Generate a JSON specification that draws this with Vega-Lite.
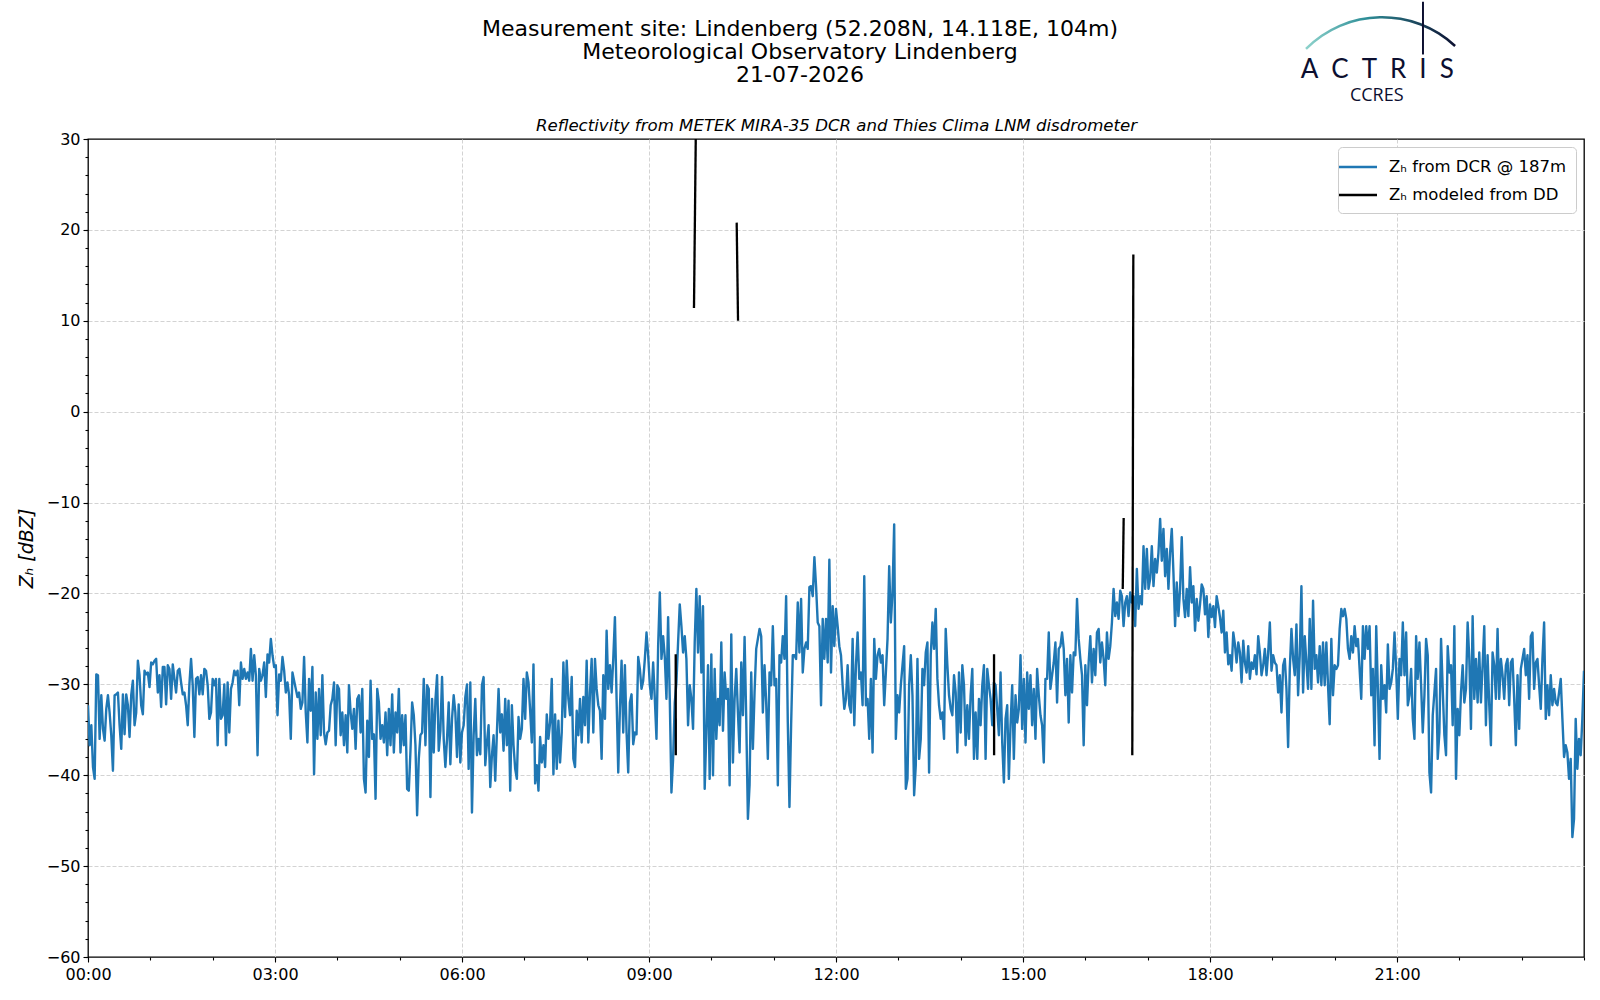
{
  "$schema": "https://vega.github.io/schema/vega-lite/v6.json",
  "width": 1496,
  "height": 818,
  "autosize": {"type": "none"},
  "padding": {"left": 88, "top": 139, "right": 16, "bottom": 43},
  "background": "white",
  "title": {
    "text": ["Measurement site: Lindenberg (52.208N, 14.118E, 104m)", "Meteorological Observatory Lindenberg", "21-07-2026"],
    "font": "DejaVu Sans",
    "fontSize": 22,
    "fontWeight": "normal",
    "lineHeight": 23,
    "color": "black",
    "anchor": "middle",
    "dx": -36,
    "offset": -86
  },
  "datasets": {
    "dcr": [
      {"m":0,"z":-32.3},{"m":1.6,"z":-36.7},{"m":3.2,"z":-34.5},{"m":4.8,"z":-39.1},{"m":6.4,"z":-40.4},
      {"m":8,"z":-28.9},{"m":9.6,"z":-29},{"m":11.2,"z":-36},{"m":12.8,"z":-31.2},{"m":14.4,"z":-34.9},
      {"m":16,"z":-36.2},{"m":17.6,"z":-32.7},{"m":19.2,"z":-31.2},{"m":20.8,"z":-33.1},{"m":22.4,"z":-35.6},
      {"m":24,"z":-39.5},{"m":25.6,"z":-31.2},{"m":27.2,"z":-31.1},{"m":28.8,"z":-30.9},{"m":30.4,"z":-34.5},
      {"m":32,"z":-37.1},{"m":33.6,"z":-31.1},{"m":35.2,"z":-35.5},{"m":36.8,"z":-31.1},{"m":38.4,"z":-32.3},
      {"m":40,"z":-35.8},{"m":41.6,"z":-31.2},{"m":43.2,"z":-29.6},{"m":44.8,"z":-34.5},{"m":46.4,"z":-33.1},
      {"m":48,"z":-27.4},{"m":49.6,"z":-29},{"m":51.2,"z":-32.3},{"m":52.8,"z":-33.3},{"m":54.4,"z":-28.5},
      {"m":56,"z":-28.9},{"m":57.6,"z":-28.7},{"m":59.2,"z":-30.3},{"m":60.8,"z":-27.6},{"m":62.4,"z":-27.8},
      {"m":64,"z":-27.4},{"m":65.6,"z":-27.2},{"m":67.2,"z":-30.9},{"m":68.8,"z":-29},{"m":70.4,"z":-32.5},
      {"m":72,"z":-28.1},{"m":73.6,"z":-28.1},{"m":75.2,"z":-32.2},{"m":76.8,"z":-27.9},{"m":78.4,"z":-28.3},
      {"m":80,"z":-31.6},{"m":81.6,"z":-27.8},{"m":83.2,"z":-29.4},{"m":84.8,"z":-30.9},{"m":86.4,"z":-28.5},
      {"m":88,"z":-28.3},{"m":89.6,"z":-29.8},{"m":91.2,"z":-31.1},{"m":92.8,"z":-30.9},{"m":94.4,"z":-32.3},
      {"m":96,"z":-34.5},{"m":97.6,"z":-30},{"m":99.2,"z":-27.2},{"m":100.8,"z":-30.1},{"m":102.4,"z":-35.8},
      {"m":104,"z":-29.4},{"m":105.6,"z":-29.2},{"m":107.2,"z":-31.1},{"m":108.8,"z":-29},{"m":110.4,"z":-31.1},
      {"m":112,"z":-28.3},{"m":113.6,"z":-28.5},{"m":115.2,"z":-30.1},{"m":116.8,"z":-33.8},{"m":118.4,"z":-33.1},
      {"m":120,"z":-29.4},{"m":121.6,"z":-30.1},{"m":123.2,"z":-29.4},{"m":124.8,"z":-36.7},{"m":126.4,"z":-29.4},
      {"m":128,"z":-33.8},{"m":129.6,"z":-33.4},{"m":131.2,"z":-30},{"m":132.8,"z":-36.7},{"m":134.4,"z":-29.8},
      {"m":136,"z":-35.3},{"m":137.6,"z":-30.5},{"m":139.2,"z":-29.8},{"m":140.8,"z":-28.5},{"m":142.4,"z":-29},
      {"m":144,"z":-28.5},{"m":145.6,"z":-32.3},{"m":147.2,"z":-27.6},{"m":148.8,"z":-29.4},{"m":150.4,"z":-28.3},
      {"m":152,"z":-29.4},{"m":153.6,"z":-28.7},{"m":155.2,"z":-29.6},{"m":156.8,"z":-26.1},{"m":158.4,"z":-29.6},
      {"m":160,"z":-26.8},{"m":161.6,"z":-29},{"m":163.2,"z":-37.8},{"m":164.8,"z":-28.3},{"m":166.4,"z":-29.6},
      {"m":168,"z":-29},{"m":169.6,"z":-27.6},{"m":171.2,"z":-31.4},{"m":172.8,"z":-26.7},{"m":174.4,"z":-27.6},
      {"m":176,"z":-25},{"m":177.6,"z":-26.8},{"m":179.2,"z":-28.1},{"m":180.8,"z":-27.9},{"m":182.4,"z":-33.4},
      {"m":184,"z":-28.9},{"m":185.6,"z":-29.6},{"m":187.2,"z":-27},{"m":188.8,"z":-28.5},{"m":190.4,"z":-30.9},
      {"m":192,"z":-29.8},{"m":193.6,"z":-31.2},{"m":195.2,"z":-36},{"m":196.8,"z":-28.7},{"m":198.4,"z":-29.6},
      {"m":200,"z":-30.5},{"m":201.6,"z":-31.4},{"m":203.2,"z":-30.9},{"m":204.8,"z":-32.7},{"m":206.4,"z":-32},
      {"m":208,"z":-27},{"m":209.6,"z":-33.1},{"m":211.2,"z":-36.4},{"m":212.8,"z":-29.4},{"m":214.4,"z":-32.9},
      {"m":216,"z":-28.1},{"m":217.6,"z":-39.9},{"m":219.2,"z":-30.9},{"m":220.8,"z":-36},{"m":222.4,"z":-30.5},
      {"m":224,"z":-35.6},{"m":225.6,"z":-29},{"m":227.2,"z":-35.3},{"m":228.8,"z":-36.6},{"m":230.4,"z":-35.3},
      {"m":232,"z":-35.1},{"m":233.6,"z":-32.3},{"m":235.2,"z":-31.6},{"m":236.8,"z":-29.8},{"m":238.4,"z":-36.7},
      {"m":240,"z":-30.1},{"m":241.6,"z":-30.5},{"m":243.2,"z":-35.6},{"m":244.8,"z":-33.1},{"m":246.4,"z":-36.7},
      {"m":248,"z":-33.4},{"m":249.6,"z":-37.5},{"m":251.2,"z":-30.1},{"m":252.8,"z":-33.1},{"m":254.4,"z":-34.9},
      {"m":256,"z":-32.7},{"m":257.6,"z":-37.1},{"m":259.2,"z":-31.6},{"m":260.8,"z":-31.2},{"m":262.4,"z":-35.3},
      {"m":264,"z":-30.5},{"m":265.6,"z":-40.4},{"m":267.2,"z":-41.9},{"m":268.8,"z":-34},{"m":270.4,"z":-38},
      {"m":272,"z":-29.6},{"m":273.6,"z":-36},{"m":275.2,"z":-35.5},{"m":276.8,"z":-42.6},{"m":278.4,"z":-30.5},
      {"m":280,"z":-32},{"m":281.6,"z":-36},{"m":283.2,"z":-34.5},{"m":284.8,"z":-36.4},{"m":286.4,"z":-33.1},
      {"m":288,"z":-37.8},{"m":289.6,"z":-32.7},{"m":291.2,"z":-36.7},{"m":292.8,"z":-31.1},{"m":294.4,"z":-37.5},
      {"m":296,"z":-33.1},{"m":297.6,"z":-35.3},{"m":299.2,"z":-30.5},{"m":300.8,"z":-37.5},{"m":302.4,"z":-33.4},
      {"m":304,"z":-36.7},{"m":305.6,"z":-33.4},{"m":307.2,"z":-41.5},{"m":308.8,"z":-41.7},{"m":310.4,"z":-37.3},
      {"m":312,"z":-32},{"m":313.6,"z":-33.4},{"m":315.2,"z":-36.7},{"m":316.8,"z":-44.4},{"m":318.4,"z":-38.2},
      {"m":320,"z":-35.6},{"m":321.6,"z":-35.3},{"m":323.2,"z":-29.4},{"m":324.8,"z":-36.7},{"m":326.4,"z":-30.1},
      {"m":328,"z":-30.5},{"m":329.6,"z":-42.4},{"m":331.2,"z":-31.6},{"m":332.8,"z":-37.5},{"m":334.4,"z":-31.8},
      {"m":336,"z":-29},{"m":337.6,"z":-37.3},{"m":339.2,"z":-35.1},{"m":340.8,"z":-29.2},{"m":342.4,"z":-36},
      {"m":344,"z":-39.1},{"m":345.6,"z":-36},{"m":347.2,"z":-32},{"m":348.8,"z":-38.8},{"m":350.4,"z":-33.8},
      {"m":352,"z":-31.2},{"m":353.6,"z":-33.1},{"m":355.2,"z":-38},{"m":356.8,"z":-32.2},{"m":358.4,"z":-38.6},
      {"m":360,"z":-35.3},{"m":361.6,"z":-34.5},{"m":363.2,"z":-31.4},{"m":364.8,"z":-30},{"m":366.4,"z":-39.3},
      {"m":368,"z":-29.8},{"m":369.6,"z":-44.1},{"m":371.2,"z":-35.6},{"m":372.8,"z":-31.6},{"m":374.4,"z":-37.8},
      {"m":376,"z":-36},{"m":377.6,"z":-37.7},{"m":379.2,"z":-30.1},{"m":380.8,"z":-29.2},{"m":382.4,"z":-38.9},
      {"m":384,"z":-36.4},{"m":385.6,"z":-34.5},{"m":387.2,"z":-41.3},{"m":388.8,"z":-37.8},{"m":390.4,"z":-35.6},
      {"m":392,"z":-40.6},{"m":393.6,"z":-35.3},{"m":395.2,"z":-30.5},{"m":396.8,"z":-35.3},{"m":398.4,"z":-33.3},
      {"m":400,"z":-37.3},{"m":401.6,"z":-31.6},{"m":403.2,"z":-36.7},{"m":404.8,"z":-31.8},{"m":406.4,"z":-41.7},
      {"m":408,"z":-32.3},{"m":409.6,"z":-36.7},{"m":411.2,"z":-39.3},{"m":412.8,"z":-40.4},{"m":414.4,"z":-33.6},
      {"m":416,"z":-36},{"m":417.6,"z":-34.9},{"m":419.2,"z":-29.4},{"m":420.8,"z":-33.8},{"m":422.4,"z":-28.7},
      {"m":424,"z":-29.8},{"m":425.6,"z":-32.9},{"m":427.2,"z":-36.4},{"m":428.8,"z":-27.8},{"m":430.4,"z":-40.9},
      {"m":432,"z":-38.9},{"m":433.6,"z":-41.7},{"m":435.2,"z":-35.8},{"m":436.8,"z":-38.6},{"m":438.4,"z":-36.7},
      {"m":440,"z":-39.1},{"m":441.6,"z":-33.3},{"m":443.2,"z":-36},{"m":444.8,"z":-34.2},{"m":446.4,"z":-29.4},
      {"m":448,"z":-39.9},{"m":449.6,"z":-33.3},{"m":451.2,"z":-39.3},{"m":452.8,"z":-34},{"m":454.4,"z":-38.6},
      {"m":456,"z":-35.3},{"m":457.6,"z":-27.6},{"m":459.2,"z":-33.6},{"m":460.8,"z":-27.4},{"m":462.4,"z":-31.6},
      {"m":464,"z":-33.4},{"m":465.6,"z":-29.2},{"m":467.2,"z":-38.2},{"m":468.8,"z":-39.1},{"m":470.4,"z":-32.9},
      {"m":472,"z":-35.6},{"m":473.6,"z":-31.6},{"m":475.2,"z":-36.4},{"m":476.8,"z":-31.4},{"m":478.4,"z":-34.5},
      {"m":480,"z":-27.4},{"m":481.6,"z":-36.4},{"m":483.2,"z":-30.9},{"m":484.8,"z":-27.2},{"m":486.4,"z":-35.3},
      {"m":488,"z":-27.2},{"m":489.6,"z":-30.5},{"m":491.2,"z":-32.3},{"m":492.8,"z":-32.9},{"m":494.4,"z":-38.2},
      {"m":496,"z":-29},{"m":497.6,"z":-33.8},{"m":499.2,"z":-24.1},{"m":500.8,"z":-30.5},{"m":502.4,"z":-27.9},
      {"m":504,"z":-30.9},{"m":505.6,"z":-27.2},{"m":507.2,"z":-22.6},{"m":508.8,"z":-31.6},{"m":510.4,"z":-39.7},
      {"m":512,"z":-32.7},{"m":513.6,"z":-27.4},{"m":515.2,"z":-35.3},{"m":516.8,"z":-27.9},{"m":518.4,"z":-35.3},
      {"m":520,"z":-39.7},{"m":521.6,"z":-32},{"m":523.2,"z":-31.1},{"m":524.8,"z":-36.6},{"m":526.4,"z":-35.3},
      {"m":528,"z":-35.5},{"m":529.6,"z":-27},{"m":531.2,"z":-28.3},{"m":532.8,"z":-30.5},{"m":534.4,"z":-29.6},
      {"m":536,"z":-27.2},{"m":537.6,"z":-24.3},{"m":539.2,"z":-26.8},{"m":540.8,"z":-30.1},{"m":542.4,"z":-31.6},
      {"m":544,"z":-27.6},{"m":545.6,"z":-31.6},{"m":547.2,"z":-36},{"m":548.8,"z":-25.8},{"m":550.4,"z":-19.9},
      {"m":552,"z":-27.2},{"m":553.6,"z":-24.7},{"m":555.2,"z":-27},{"m":556.8,"z":-31.6},{"m":558.4,"z":-22.6},
      {"m":560,"z":-31.6},{"m":561.6,"z":-41.9},{"m":563.2,"z":-38.2},{"m":564.8,"z":-32},{"m":566.4,"z":-29.8},
      {"m":568,"z":-25.4},{"m":569.6,"z":-21.2},{"m":571.2,"z":-23.6},{"m":572.8,"z":-26.5},{"m":574.4,"z":-24.7},
      {"m":576,"z":-27.2},{"m":577.6,"z":-34.5},{"m":579.2,"z":-30.1},{"m":580.8,"z":-31.6},{"m":582.4,"z":-34.9},
      {"m":584,"z":-25.4},{"m":585.6,"z":-19.5},{"m":587.2,"z":-26.5},{"m":588.8,"z":-20.3},{"m":590.4,"z":-28.7},
      {"m":592,"z":-21.4},{"m":593.6,"z":-41.5},{"m":595.2,"z":-35.3},{"m":596.8,"z":-27.9},{"m":598.4,"z":-40.4},
      {"m":600,"z":-26.7},{"m":601.6,"z":-40},{"m":603.2,"z":-28.3},{"m":604.8,"z":-36},{"m":606.4,"z":-31.6},
      {"m":608,"z":-34.5},{"m":609.6,"z":-25.4},{"m":611.2,"z":-35.1},{"m":612.8,"z":-28.7},{"m":614.4,"z":-31.6},
      {"m":616,"z":-30.5},{"m":617.6,"z":-41.1},{"m":619.2,"z":-24.5},{"m":620.8,"z":-38.6},{"m":622.4,"z":-31.6},
      {"m":624,"z":-28.3},{"m":625.6,"z":-33.1},{"m":627.2,"z":-37.5},{"m":628.8,"z":-27.6},{"m":630.4,"z":-33.4},
      {"m":632,"z":-24.8},{"m":633.6,"z":-33.8},{"m":635.2,"z":-44.8},{"m":636.8,"z":-41.1},{"m":638.4,"z":-28.7},
      {"m":640,"z":-37.1},{"m":641.6,"z":-30.9},{"m":643.2,"z":-26.1},{"m":644.8,"z":-25},{"m":646.4,"z":-23.9},
      {"m":648,"z":-24.7},{"m":649.6,"z":-33.1},{"m":651.2,"z":-27.9},{"m":652.8,"z":-32},{"m":654.4,"z":-38.2},
      {"m":656,"z":-28.7},{"m":657.6,"z":-30.1},{"m":659.2,"z":-23.6},{"m":660.8,"z":-30.1},{"m":662.4,"z":-29.4},
      {"m":664,"z":-41.1},{"m":665.6,"z":-26.8},{"m":667.2,"z":-27.6},{"m":668.8,"z":-24.7},{"m":670.4,"z":-27.2},
      {"m":672,"z":-20.3},{"m":673.6,"z":-34.2},{"m":675.2,"z":-43.5},{"m":676.8,"z":-34.5},{"m":678.4,"z":-26.8},
      {"m":680,"z":-26.8},{"m":681.6,"z":-27.2},{"m":683.2,"z":-21},{"m":684.8,"z":-26.5},{"m":686.4,"z":-20.6},
      {"m":688,"z":-28.7},{"m":689.6,"z":-26.1},{"m":691.2,"z":-25.4},{"m":692.8,"z":-26.1},{"m":694.4,"z":-19.3},
      {"m":696,"z":-19.2},{"m":697.6,"z":-20.3},{"m":699.2,"z":-16},{"m":700.8,"z":-19.2},{"m":702.4,"z":-23.2},
      {"m":704,"z":-23.6},{"m":705.6,"z":-32.3},{"m":707.2,"z":-22.8},{"m":708.8,"z":-27.2},{"m":710.4,"z":-22.8},
      {"m":712,"z":-27.6},{"m":713.6,"z":-16.3},{"m":715.2,"z":-28.7},{"m":716.8,"z":-21.4},{"m":718.4,"z":-25.8},
      {"m":720,"z":-21.7},{"m":721.6,"z":-23.6},{"m":723.2,"z":-25.8},{"m":724.8,"z":-26.8},{"m":726.4,"z":-30.1},
      {"m":728,"z":-32.7},{"m":729.6,"z":-31.6},{"m":731.2,"z":-27.9},{"m":732.8,"z":-32.3},{"m":734.4,"z":-33.1},
      {"m":736,"z":-25},{"m":737.6,"z":-34.5},{"m":739.2,"z":-27.9},{"m":740.8,"z":-24.3},{"m":742.4,"z":-29.4},
      {"m":744,"z":-28.7},{"m":745.6,"z":-32.3},{"m":747.2,"z":-18.1},{"m":748.8,"z":-32.3},{"m":750.4,"z":-31.6},
      {"m":752,"z":-36},{"m":753.6,"z":-29.4},{"m":755.2,"z":-37.5},{"m":756.8,"z":-25},{"m":758.4,"z":-29.4},
      {"m":760,"z":-26.8},{"m":761.6,"z":-26.1},{"m":763.2,"z":-27.6},{"m":764.8,"z":-26.8},{"m":766.4,"z":-32.3},
      {"m":768,"z":-28.7},{"m":769.6,"z":-25},{"m":771.2,"z":-17},{"m":772.8,"z":-23.2},{"m":774.4,"z":-19.9},
      {"m":776,"z":-12.4},{"m":777.6,"z":-36},{"m":779.2,"z":-31.2},{"m":780.8,"z":-33.1},{"m":782.4,"z":-30.1},
      {"m":784,"z":-27.9},{"m":785.6,"z":-25.8},{"m":787.2,"z":-41.5},{"m":788.8,"z":-40.4},{"m":790.4,"z":-30.1},
      {"m":792,"z":-26.8},{"m":793.6,"z":-31.2},{"m":795.2,"z":-42.2},{"m":796.8,"z":-38.9},{"m":798.4,"z":-27.2},
      {"m":800,"z":-38.2},{"m":801.6,"z":-36},{"m":803.2,"z":-28.3},{"m":804.8,"z":-30.1},{"m":806.4,"z":-26.5},
      {"m":808,"z":-25.4},{"m":809.6,"z":-39.7},{"m":811.2,"z":-26.8},{"m":812.8,"z":-23.2},{"m":814.4,"z":-26.1},
      {"m":816,"z":-21.7},{"m":817.6,"z":-29.4},{"m":819.2,"z":-32.3},{"m":820.8,"z":-33.8},{"m":822.4,"z":-33.1},
      {"m":824,"z":-36},{"m":825.6,"z":-23.9},{"m":827.2,"z":-27.9},{"m":828.8,"z":-31.2},{"m":830.4,"z":-32.7},
      {"m":832,"z":-33.4},{"m":833.6,"z":-29},{"m":835.2,"z":-30.9},{"m":836.8,"z":-37.5},{"m":838.4,"z":-28.7},
      {"m":840,"z":-35.3},{"m":841.6,"z":-27.9},{"m":843.2,"z":-30.1},{"m":844.8,"z":-36.7},{"m":846.4,"z":-32.3},
      {"m":848,"z":-36},{"m":849.6,"z":-31.2},{"m":851.2,"z":-28.3},{"m":852.8,"z":-38.2},{"m":854.4,"z":-33.1},
      {"m":856,"z":-38.2},{"m":857.6,"z":-31.6},{"m":859.2,"z":-34.5},{"m":860.8,"z":-30.1},{"m":862.4,"z":-27.9},
      {"m":864,"z":-38.2},{"m":865.6,"z":-28.3},{"m":867.2,"z":-30.1},{"m":868.8,"z":-31.6},{"m":870.4,"z":-34.5},
      {"m":872,"z":-29.8},{"m":873.6,"z":-30.1},{"m":875.2,"z":-32.7},{"m":876.8,"z":-35.6},{"m":878.4,"z":-28.7},
      {"m":880,"z":-36.4},{"m":881.6,"z":-40.8},{"m":883.2,"z":-33.8},{"m":884.8,"z":-32.3},{"m":886.4,"z":-40.4},
      {"m":888,"z":-34.5},{"m":889.6,"z":-30.1},{"m":891.2,"z":-38.2},{"m":892.8,"z":-31.2},{"m":894.4,"z":-34.2},
      {"m":896,"z":-32.7},{"m":897.6,"z":-26.8},{"m":899.2,"z":-34.9},{"m":900.8,"z":-29.4},{"m":902.4,"z":-36.4},
      {"m":904,"z":-28.7},{"m":905.6,"z":-32.7},{"m":907.2,"z":-29},{"m":908.8,"z":-34.5},{"m":910.4,"z":-30.5},
      {"m":912,"z":-36},{"m":913.6,"z":-28.3},{"m":915.2,"z":-31.2},{"m":916.8,"z":-33.4},{"m":918.4,"z":-34.5},
      {"m":920,"z":-38.6},{"m":921.6,"z":-29.4},{"m":923.2,"z":-29.4},{"m":924.8,"z":-24.3},{"m":926.4,"z":-30.5},
      {"m":928,"z":-29},{"m":929.6,"z":-27.6},{"m":931.2,"z":-25.4},{"m":932.8,"z":-32},{"m":934.4,"z":-26.1},
      {"m":936,"z":-25.8},{"m":937.6,"z":-24.3},{"m":939.2,"z":-26.1},{"m":940.8,"z":-31.2},{"m":942.4,"z":-27.2},
      {"m":944,"z":-34.2},{"m":945.6,"z":-26.8},{"m":947.2,"z":-30.9},{"m":948.8,"z":-26.5},{"m":950.4,"z":-26.8},
      {"m":952,"z":-20.6},{"m":953.6,"z":-25},{"m":955.2,"z":-27.2},{"m":956.8,"z":-29},{"m":958.4,"z":-36.7},
      {"m":960,"z":-27.9},{"m":961.6,"z":-32.3},{"m":963.2,"z":-27.6},{"m":964.8,"z":-24.7},{"m":966.4,"z":-29.8},
      {"m":968,"z":-26.1},{"m":969.6,"z":-29},{"m":971.2,"z":-24.3},{"m":972.8,"z":-23.9},{"m":974.4,"z":-27.6},
      {"m":976,"z":-25.4},{"m":977.6,"z":-27.2},{"m":979.2,"z":-30.1},{"m":980.8,"z":-24.3},{"m":982.4,"z":-27.2},
      {"m":984,"z":-25.8},{"m":985.6,"z":-23.2},{"m":987.2,"z":-19.5},{"m":988.8,"z":-22.5},{"m":990.4,"z":-21},
      {"m":992,"z":-22.8},{"m":993.6,"z":-19.7},{"m":995.2,"z":-20.3},{"m":996.8,"z":-23.6},{"m":998.4,"z":-21},
      {"m":1000,"z":-20.3},{"m":1001.6,"z":-22.5},{"m":1003.2,"z":-19.9},{"m":1004.8,"z":-21},{"m":1006.4,"z":-20.3},
      {"m":1008,"z":-23.6},{"m":1009.6,"z":-17.3},{"m":1011.2,"z":-21.7},{"m":1012.8,"z":-20.3},{"m":1014.4,"z":-21.2},
      {"m":1016,"z":-14.8},{"m":1017.6,"z":-19.5},{"m":1019.2,"z":-15.1},{"m":1020.8,"z":-19.5},{"m":1022.4,"z":-18.4},
      {"m":1024,"z":-14.8},{"m":1025.6,"z":-19.2},{"m":1027.2,"z":-16.2},{"m":1028.8,"z":-17.7},{"m":1030.4,"z":-15.5},
      {"m":1032,"z":-11.8},{"m":1033.6,"z":-16.4},{"m":1035.2,"z":-12.9},{"m":1036.8,"z":-18.1},{"m":1038.4,"z":-15.1},
      {"m":1040,"z":-19.5},{"m":1041.6,"z":-15.5},{"m":1043.2,"z":-12.9},{"m":1044.8,"z":-17.7},{"m":1046.4,"z":-23.6},
      {"m":1048,"z":-18.8},{"m":1049.6,"z":-22.5},{"m":1051.2,"z":-19.5},{"m":1052.8,"z":-13.8},{"m":1054.4,"z":-20.6},
      {"m":1056,"z":-22.6},{"m":1057.6,"z":-19.5},{"m":1059.2,"z":-22.5},{"m":1060.8,"z":-17.1},{"m":1062.4,"z":-21},
      {"m":1064,"z":-19.2},{"m":1065.6,"z":-24.1},{"m":1067.2,"z":-20.6},{"m":1068.8,"z":-23},{"m":1070.4,"z":-21.2},
      {"m":1072,"z":-19},{"m":1073.6,"z":-19.5},{"m":1075.2,"z":-22.3},{"m":1076.8,"z":-20.3},{"m":1078.4,"z":-24.8},
      {"m":1080,"z":-21.2},{"m":1081.6,"z":-22.6},{"m":1083.2,"z":-21.4},{"m":1084.8,"z":-23.7},{"m":1086.4,"z":-20.3},
      {"m":1088,"z":-21.4},{"m":1089.6,"z":-22.6},{"m":1091.2,"z":-24.3},{"m":1092.8,"z":-21.9},{"m":1094.4,"z":-26.5},
      {"m":1096,"z":-24.3},{"m":1097.6,"z":-27.8},{"m":1099.2,"z":-26.8},{"m":1100.8,"z":-28.5},{"m":1102.4,"z":-24.3},
      {"m":1104,"z":-25.6},{"m":1105.6,"z":-27.6},{"m":1107.2,"z":-25.4},{"m":1108.8,"z":-26.5},{"m":1110.4,"z":-29.8},
      {"m":1112,"z":-25.2},{"m":1113.6,"z":-27.6},{"m":1115.2,"z":-28.7},{"m":1116.8,"z":-25.8},{"m":1118.4,"z":-29.4},
      {"m":1120,"z":-27.6},{"m":1121.6,"z":-28.3},{"m":1123.2,"z":-26.8},{"m":1124.8,"z":-28.9},{"m":1126.4,"z":-24.7},
      {"m":1128,"z":-26.5},{"m":1129.6,"z":-29},{"m":1131.2,"z":-27.9},{"m":1132.8,"z":-26.1},{"m":1134.4,"z":-29},
      {"m":1136,"z":-26.5},{"m":1137.6,"z":-23.2},{"m":1139.2,"z":-28.5},{"m":1140.8,"z":-26.8},{"m":1142.4,"z":-27.6},
      {"m":1144,"z":-27.9},{"m":1145.6,"z":-30.9},{"m":1147.2,"z":-29},{"m":1148.8,"z":-33.1},{"m":1150.4,"z":-27.9},
      {"m":1152,"z":-27.2},{"m":1153.6,"z":-30.5},{"m":1155.2,"z":-36.9},{"m":1156.8,"z":-28.3},{"m":1158.4,"z":-23.9},
      {"m":1160,"z":-27.2},{"m":1161.6,"z":-29},{"m":1163.2,"z":-23.4},{"m":1164.8,"z":-31.2},{"m":1166.4,"z":-26.8},
      {"m":1168,"z":-19.2},{"m":1169.6,"z":-30.9},{"m":1171.2,"z":-24.7},{"m":1172.8,"z":-27.6},{"m":1174.4,"z":-30.5},
      {"m":1176,"z":-22.8},{"m":1177.6,"z":-30.5},{"m":1179.2,"z":-20.8},{"m":1180.8,"z":-28.3},{"m":1182.4,"z":-26.8},
      {"m":1184,"z":-29.8},{"m":1185.6,"z":-25.8},{"m":1187.2,"z":-30.1},{"m":1188.8,"z":-25.4},{"m":1190.4,"z":-30.1},
      {"m":1192,"z":-25.4},{"m":1193.6,"z":-30.1},{"m":1195.2,"z":-34.4},{"m":1196.8,"z":-25},{"m":1198.4,"z":-31.2},
      {"m":1200,"z":-27.9},{"m":1201.6,"z":-28.3},{"m":1203.2,"z":-27.9},{"m":1204.8,"z":-23.9},{"m":1206.4,"z":-21.7},
      {"m":1208,"z":-22.5},{"m":1209.6,"z":-21.7},{"m":1211.2,"z":-22.8},{"m":1212.8,"z":-26.1},{"m":1214.4,"z":-27.2},
      {"m":1216,"z":-24.7},{"m":1217.6,"z":-26.5},{"m":1219.2,"z":-23.6},{"m":1220.8,"z":-25.8},{"m":1222.4,"z":-25},
      {"m":1224,"z":-28.3},{"m":1225.6,"z":-31.6},{"m":1227.2,"z":-23.6},{"m":1228.8,"z":-27.2},{"m":1230.4,"z":-23.6},
      {"m":1232,"z":-26.1},{"m":1233.6,"z":-23.6},{"m":1235.2,"z":-31.2},{"m":1236.8,"z":-28.3},{"m":1238.4,"z":-36.7},
      {"m":1240,"z":-23.6},{"m":1241.6,"z":-30.5},{"m":1243.2,"z":-38.2},{"m":1244.8,"z":-27.9},{"m":1246.4,"z":-31.6},
      {"m":1248,"z":-30.1},{"m":1249.6,"z":-33.1},{"m":1251.2,"z":-25.6},{"m":1252.8,"z":-30.5},{"m":1254.4,"z":-29.8},
      {"m":1256,"z":-28.3},{"m":1257.6,"z":-24.3},{"m":1259.2,"z":-28.3},{"m":1260.8,"z":-33.8},{"m":1262.4,"z":-27.2},
      {"m":1264,"z":-29},{"m":1265.6,"z":-23.2},{"m":1267.2,"z":-29},{"m":1268.8,"z":-24.3},{"m":1270.4,"z":-32.3},
      {"m":1272,"z":-31.2},{"m":1273.6,"z":-28.3},{"m":1275.2,"z":-33.8},{"m":1276.8,"z":-36},{"m":1278.4,"z":-24.7},
      {"m":1280,"z":-29.4},{"m":1281.6,"z":-25.4},{"m":1283.2,"z":-30.1},{"m":1284.8,"z":-35.3},{"m":1286.4,"z":-31.2},
      {"m":1288,"z":-25},{"m":1289.6,"z":-26.8},{"m":1291.2,"z":-39.7},{"m":1292.8,"z":-41.9},{"m":1294.4,"z":-33.4},
      {"m":1296,"z":-30.9},{"m":1297.6,"z":-28.3},{"m":1299.2,"z":-38.2},{"m":1300.8,"z":-35.3},{"m":1302.4,"z":-25},
      {"m":1304,"z":-30.5},{"m":1305.6,"z":-35.6},{"m":1307.2,"z":-37.8},{"m":1308.8,"z":-25.8},{"m":1310.4,"z":-28.7},
      {"m":1312,"z":-27.9},{"m":1313.6,"z":-34.5},{"m":1315.2,"z":-23.6},{"m":1316.8,"z":-40.4},{"m":1318.4,"z":-32.7},
      {"m":1320,"z":-35.6},{"m":1321.6,"z":-30.9},{"m":1323.2,"z":-27.9},{"m":1324.8,"z":-32},{"m":1326.4,"z":-30.5},
      {"m":1328,"z":-23.2},{"m":1329.6,"z":-27.2},{"m":1331.2,"z":-34.9},{"m":1332.8,"z":-22.5},{"m":1334.4,"z":-31.6},
      {"m":1336,"z":-27.2},{"m":1337.6,"z":-32},{"m":1339.2,"z":-26.5},{"m":1340.8,"z":-32},{"m":1342.4,"z":-27.9},
      {"m":1344,"z":-23.6},{"m":1345.6,"z":-34.5},{"m":1347.2,"z":-26.8},{"m":1348.8,"z":-32.3},{"m":1350.4,"z":-36.7},
      {"m":1352,"z":-26.5},{"m":1353.6,"z":-27.9},{"m":1355.2,"z":-31.6},{"m":1356.8,"z":-23.9},{"m":1358.4,"z":-31.6},
      {"m":1360,"z":-27.2},{"m":1361.6,"z":-29},{"m":1363.2,"z":-31.6},{"m":1364.8,"z":-27.9},{"m":1366.4,"z":-27.2},
      {"m":1368,"z":-32.3},{"m":1369.6,"z":-27.6},{"m":1371.2,"z":-27.2},{"m":1372.8,"z":-31.6},{"m":1374.4,"z":-36.7},
      {"m":1376,"z":-29},{"m":1377.6,"z":-34.9},{"m":1379.2,"z":-28.3},{"m":1380.8,"z":-27.2},{"m":1382.4,"z":-26.1},
      {"m":1384,"z":-29},{"m":1385.6,"z":-26.8},{"m":1387.2,"z":-31.6},{"m":1388.8,"z":-24.7},{"m":1390.4,"z":-24.3},
      {"m":1392,"z":-30.5},{"m":1393.6,"z":-27.6},{"m":1395.2,"z":-27.2},{"m":1396.8,"z":-30.1},{"m":1398.4,"z":-32.7},
      {"m":1400,"z":-27.2},{"m":1401.6,"z":-23.2},{"m":1403.2,"z":-33.8},{"m":1404.8,"z":-30.1},{"m":1406.4,"z":-33.4},
      {"m":1408,"z":-29},{"m":1409.6,"z":-32.3},{"m":1411.2,"z":-30.5},{"m":1412.8,"z":-32},{"m":1414.4,"z":-32.3},
      {"m":1416,"z":-30.9},{"m":1417.6,"z":-29.4},{"m":1419.2,"z":-33.8},{"m":1420.8,"z":-38},{"m":1422.4,"z":-36.7},
      {"m":1424,"z":-37.5},{"m":1425.6,"z":-40.4},{"m":1427.2,"z":-38.2},{"m":1428.8,"z":-46.8},{"m":1430.4,"z":-44.8},
      {"m":1432,"z":-33.8},{"m":1433.6,"z":-39.3},{"m":1435.2,"z":-36},{"m":1436.8,"z":-37.8},{"m":1438.4,"z":-33.8},
      {"m":1440,"z":-28.5}
    ],
    "dd": [
      {"m":583.3,"z":11.4,"g":1},{"m":585.0,"z":30,"g":1},
      {"m":624.4,"z":20.8,"g":2},{"m":625.7,"z":10.0,"g":2},
      {"m":565.7,"z":-26.7,"g":3},{"m":565.8,"z":-37.8,"g":3},
      {"m":872.1,"z":-26.7,"g":4},{"m":872.2,"z":-37.8,"g":4},
      {"m":996.0,"z":-19.5,"g":5},{"m":996.9,"z":-11.7,"g":5},
      {"m":1005.2,"z":-37.8,"g":6},{"m":1006.2,"z":17.3,"g":6}
    ]
  },
  "layer": [
    {
      "data": {"name": "dcr"},
      "mark": {"type": "line", "strokeWidth": 2.4, "strokeJoin": "round", "clip": true},
      "encoding": {
        "x": {
          "field": "m", "type": "quantitative",
          "scale": {"domain": [0, 1440], "nice": false, "zero": false},
          "axis": {
            "orient": "bottom", "title": null,
            "values": [0, 180, 360, 540, 720, 900, 1080, 1260],
            "labelExpr": "(datum.value < 600 ? '0' : '') + (datum.value / 60) + ':00'",
            "grid": false, "domain": false, "tickSize": 5, "labelPadding": 4, "labelFlush": false
          }
        },
        "y": {
          "field": "z", "type": "quantitative",
          "scale": {"domain": [-60, 30], "nice": false, "zero": false},
          "axis": {
            "orient": "left",
            "values": [-60, -50, -40, -30, -20, -10, 0, 10, 20, 30],
            "grid": false, "domain": false, "tickSize": 5, "labelPadding": 3, "labelFlush": false,
            "title": "Zₕ [dBZ]", "titleFontStyle": "italic", "titleFontSize": 19,
            "titleFontWeight": "normal", "titlePadding": 10
          }
        },
        "color": {
          "datum": "Zₕ from DCR @ 187m", "type": "nominal",
          "scale": {"domain": ["Zₕ from DCR @ 187m", "Zₕ modeled from DD"], "range": ["#1f77b4", "#000000"]},
          "legend": {
            "title": null, "orient": "top-right", "offset": 8, "padding": 9,
            "symbolType": "M-2,0H2", "symbolSize": 361, "symbolStrokeWidth": 2.3,
            "labelOffset": 20, "rowPadding": 8, "labelFontSize": 16.5, "labelFont": "DejaVu Sans",
            "labelColor": "black", "labelLimit": 400,
            "strokeColor": "#cccccc", "fillColor": "white", "cornerRadius": 4
          }
        }
      }
    },
    {
      "data": {"name": "dd"},
      "mark": {"type": "line", "strokeWidth": 2.3, "clip": true},
      "encoding": {
        "x": {
          "field": "m", "type": "quantitative",
          "scale": {"domain": [0, 1440], "nice": false, "zero": false},
          "axis": {
            "orient": "top", "labels": false, "ticks": false, "domain": false, "grid": false,
            "title": "Reflectivity from METEK MIRA-35 DCR and Thies Clima LNM disdrometer",
            "titleFontStyle": "italic", "titleFontWeight": "normal", "titleFontSize": 16.6, "titlePadding": 6
          }
        },
        "y": {
          "field": "z", "type": "quantitative",
          "scale": {"domain": [-60, 30], "nice": false, "zero": false},
          "axis": {
            "orient": "left", "labels": false, "domain": false, "grid": false, "title": null, "tickSize": 3,
            "values": [-60,-58,-56,-54,-52,-50,-48,-46,-44,-42,-40,-38,-36,-34,-32,-30,-28,-26,-24,-22,-20,-18,-16,-14,-12,-10,-8,-6,-4,-2,0,2,4,6,8,10,12,14,16,18,20,22,24,26,28,30]
          }
        },
        "detail": {"field": "g", "type": "nominal"},
        "color": {
          "datum": "Zₕ modeled from DD", "type": "nominal",
          "scale": {"domain": ["Zₕ from DCR @ 187m", "Zₕ modeled from DD"], "range": ["#1f77b4", "#000000"]}
        }
      }
    },
    {
      "data": {"values": [{}]},
      "mark": {"type": "text", "text": "A\u2002C\u2002T\u2002R\u2002I\u2002S", "font": "Lato", "fontSize": 26, "color": "#0c0f30", "align": "center", "baseline": "alphabetic"},
      "encoding": {
        "x": {
          "datum": 1241, "type": "quantitative",
          "scale": {"domain": [0, 1440], "nice": false, "zero": false},
          "axis": {
            "orient": "bottom", "labels": false, "domain": false, "grid": false, "title": null, "tickSize": 3,
            "values": [0,60,120,180,240,300,360,420,480,540,600,660,720,780,840,900,960,1020,1080,1140,1200,1260,1320,1380,1440]
          }
        },
        "y": {"datum": 36.75, "type": "quantitative", "scale": {"domain": [-60, 30], "nice": false, "zero": false}, "axis": null}
      }
    },
    {
      "data": {"values": [{}]},
      "mark": {"type": "text", "text": "CCRES", "font": "Open Sans", "fontSize": 18, "color": "#0c0f30", "align": "center", "baseline": "alphabetic"},
      "encoding": {
        "x": {
          "datum": 1240.5, "type": "quantitative",
          "scale": {"domain": [0, 1440], "nice": false, "zero": false},
          "axis": {
            "orient": "bottom", "labels": false, "ticks": false, "domain": false, "grid": true, "title": null,
            "values": [180, 360, 540, 720, 900, 1080, 1260]
          }
        },
        "y": {
          "datum": 34.2, "type": "quantitative",
          "scale": {"domain": [-60, 30], "nice": false, "zero": false},
          "axis": {
            "orient": "left", "labels": false, "ticks": false, "domain": false, "grid": true, "title": null,
            "values": [-50, -40, -30, -20, -10, 0, 10, 20]
          }
        }
      }
    },
    {
      "data": {"values": [{}]},
      "mark": {
        "type": "arc", "theta": -0.791, "theta2": 0.752, "radius": 108.2, "radius2": 105.7,
        "fill": {"gradient": "linear", "x1": 0, "y1": 0, "x2": 1, "y2": 0,
          "stops": [{"offset": 0, "color": "#8fd3cc"}, {"offset": 0.4, "color": "#2f8f98"}, {"offset": 1, "color": "#0c0f30"}]}
      },
      "encoding": {
        "x": {"datum": 1245.6, "type": "quantitative", "scale": {"domain": [0, 1440], "nice": false, "zero": false}, "axis": null},
        "y": {"datum": 31.64, "type": "quantitative", "scale": {"domain": [-60, 30], "nice": false, "zero": false}, "axis": null}
      }
    },
    {
      "data": {"values": [{}]},
      "mark": {"type": "rule", "color": "#0c0f30", "strokeWidth": 2},
      "encoding": {
        "x": {"datum": 1285, "type": "quantitative", "scale": {"domain": [0, 1440], "nice": false, "zero": false}, "axis": null},
        "y": {"datum": 45.1, "type": "quantitative", "scale": {"domain": [-60, 30], "nice": false, "zero": false}, "axis": null},
        "y2": {"datum": 39.3}
      }
    }
  ],
  "resolve": {"axis": {"x": "independent", "y": "independent"}},
  "config": {
    "font": "DejaVu Sans",
    "view": {"stroke": "black", "strokeWidth": 1.3},
    "axis": {
      "labelFont": "DejaVu Sans", "labelFontSize": 16, "labelColor": "black",
      "titleFont": "DejaVu Sans", "titleColor": "black",
      "tickColor": "black", "tickWidth": 1.1,
      "gridColor": "#d3d3d3", "gridDash": [4, 2], "gridWidth": 1
    }
  }
}
